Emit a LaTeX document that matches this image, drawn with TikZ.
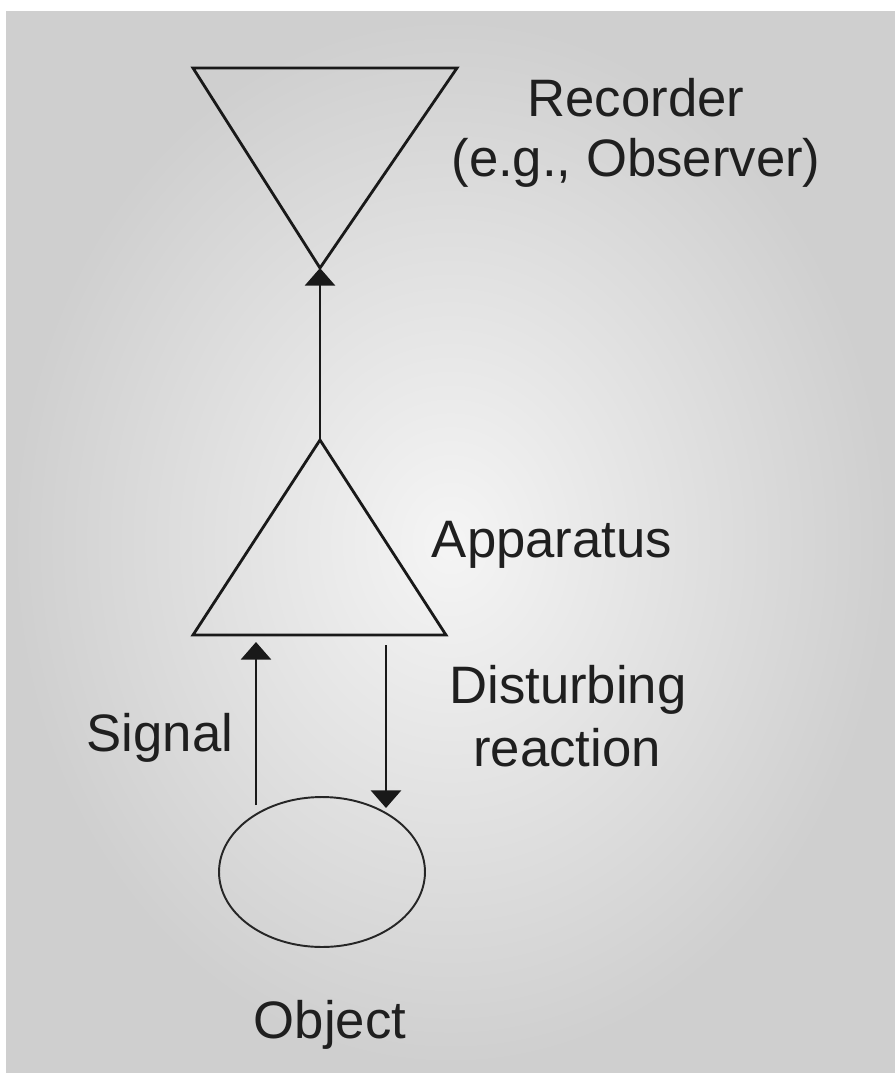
\documentclass[tikz,border=0pt]{standalone}
\usepackage{fontspec}
\setmainfont{Liberation Sans}
\usetikzlibrary{arrows.meta,shapes.geometric}
\begin{document}
\begin{tikzpicture}[x=0.02cm,y=-0.02cm,
  shape line/.style={draw=black!90, line width=1.6pt, line join=miter},
  conn/.style={draw=black!90, line width=1.7pt, -{Triangle[length=10pt,width=17pt]}},
  lbl/.style={font=\fontsize{30}{36}\selectfont, text=black!88, inner sep=0pt}]
\useasboundingbox (0,0) rectangle (895,1073);
\fill[white] (0,0) rectangle (895,1073);
\shade[inner color=gray!8, outer color=gray!38, shading=radial] (6,11) rectangle (895,1073);
% recorder (inverted triangle)
\coordinate (recApex) at (320,268);
\draw[shape line] (193,68) -- (457,68) -- (recApex) -- cycle;
% apparatus triangle
\coordinate (appApex) at (320,440);
\draw[shape line] (appApex) -- (446,635) -- (193,635) -- cycle;
% object
\node[draw=black!85, line width=1.1pt, ellipse, inner sep=0pt,
      minimum width=4.12cm, minimum height=3.0cm] (obj) at (322,872) {};
% connectors
\draw[conn] (appApex) -- (recApex);
\coordinate (sigS) at (256,805);
\coordinate (sigE) at (256,642);
\coordinate (disS) at (386,645);
\coordinate (disE) at (386,808);
\draw[conn] (sigS) -- (sigE);
\draw[conn] (disS) -- (disE);
% labels
\node[lbl] (recorder) at (636,98) {Recorder};
\node[lbl] (eg) at (636,163) {(e.g., Observer)};
\node[lbl] (app) at (552,545) {Apparatus};
\node[lbl] (dist) at (568,690) {Disturbing};
\node[lbl] (react) at (567,748) {reaction};
\node[lbl] (sig) at (160,738) {Signal};
\node[lbl] (objl) at (330,1025) {Object};
\end{tikzpicture}
\end{document}
